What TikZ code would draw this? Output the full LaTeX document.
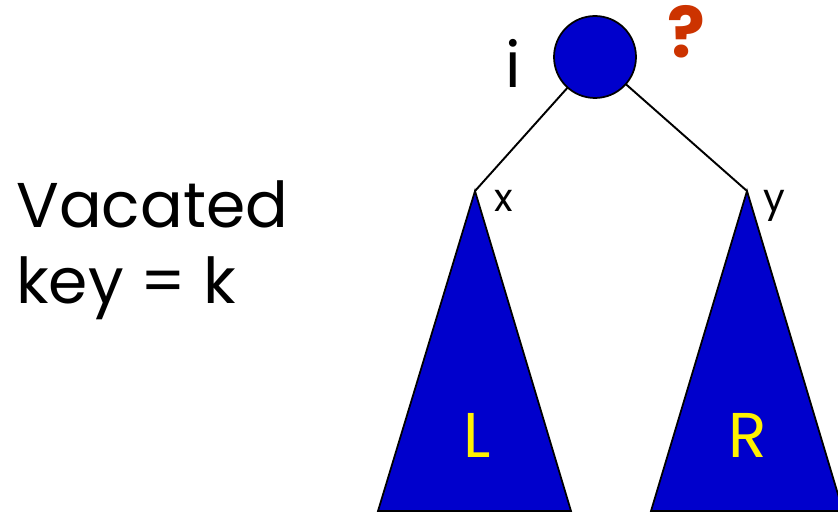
\documentclass[tikz,border=0pt]{standalone}
\usepackage{fontspec}
\setmainfont{Poppins}
\definecolor{treeblue}{HTML}{0000CC}
\definecolor{askred}{HTML}{CC3300}
\tikzset{
  subtree/.style={draw=black, line width=1pt, fill=treeblue},
  keynode/.style={circle, draw=black, line width=1pt, fill=treeblue, minimum size=41*0.04cm, inner sep=0pt},
  edge/.style={line width=1.1pt},
  smalllabel/.style={font=\fontsize{22}{26}\selectfont, anchor=base west}
}
\begin{document}
\begin{tikzpicture}[x=0.02cm, y=-0.02cm]
    \useasboundingbox (0,0) rectangle (838,513);
    % apex of each subtree
    \coordinate (ltop) at (475,191);
    \coordinate (rtop) at (747,191);
    \draw[edge] (595,57) -- (ltop);
    \draw[edge] (595,57) -- (rtop);
    \node[keynode] (root) at (595,57) {};
    % subtrees
    \draw[subtree] (ltop) -- (378,511) -- (571,511) -- cycle;
    \draw[subtree] (rtop) -- (651,511) -- (843,511) -- cycle;
    \node[font=\fontsize{36}{40}\selectfont, text=yellow, anchor=base] (lname) at (477,457) {L};
    \node[font=\fontsize{36}{40}\selectfont, text=yellow, anchor=base] (rname) at (748,457) {R};
    % labels
    \node[font=\fontsize{36}{40}\selectfont, anchor=base] (ilabel) at (513,88) {i};
    \node[font=\bfseries\fontsize{40}{44}\selectfont, text=askred, anchor=base] (ask) at (686,58) {?};
    \node[smalllabel, inner sep=0pt] (xlabel) at (494,212) {x};
    \node[smalllabel, inner sep=0pt] (ylabel) at (763,212) {y};
    \node[font=\fontsize{36}{43}\selectfont, align=left, anchor=base west, inner sep=0pt]
      (vacated) at (16,303) {Vacated\\key = k};
\end{tikzpicture}
\end{document}
